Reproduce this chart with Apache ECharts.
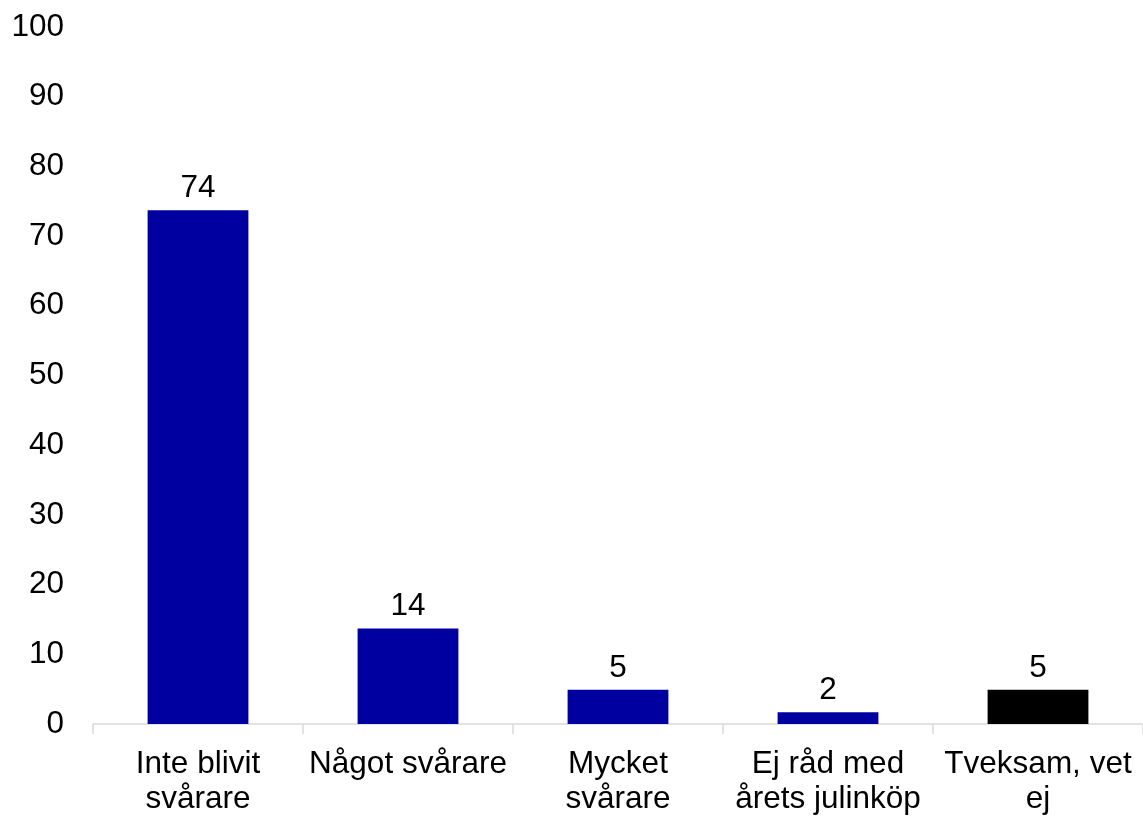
<!DOCTYPE html>
<html>
<head>
<meta charset="utf-8">
<script src="https://cdn.jsdelivr.net/npm/echarts@6/dist/echarts.min.js"></script>
<style>html,body{margin:0;padding:0;background:#fff;overflow:hidden}#c{width:1143px;height:817px}</style>
</head>
<body>
<div id="c"></div>
<script>
const categories = ["Inte blivit\nsvårare", "Något svårare", "Mycket\nsvårare", "Ej råd med\nårets julinköp", "Tveksam, vet\nej"];
const values = [73.7, 13.7, 4.9, 1.7, 4.9];
const barColors = ["#0000A0", "#0000A0", "#0000A0", "#0000A0", "#000000"];

const chart = echarts.init(document.getElementById('c'), null, {renderer: 'canvas'});
const font = 'Liberation Sans, Arial, sans-serif';
chart.setOption({
  animation: false,
  grid: {left: 93, right: 0, top: 27, bottom: 90, containLabel: false},
  xAxis: {
    type: 'category',
    data: categories,
    axisLine: {show: true, lineStyle: {color: '#d9d9d9', width: 1.5}},
    axisTick: {show: true, length: 10, lineStyle: {color: '#d9d9d9', width: 1.5}},
    axisLabel: {color: '#000', fontFamily: font, fontSize: 31.5, lineHeight: 35, margin: 23, interval: 0}
  },
  yAxis: {
    type: 'value', min: 0, max: 100, interval: 10,
    axisLine: {show: false}, axisTick: {show: false}, splitLine: {show: false},
    axisLabel: {color: '#000', fontFamily: font, fontSize: 31.5, margin: 29}
  },
  series: [{
    type: 'bar',
    data: values.map((v, i) => ({value: v, itemStyle: {color: barColors[i]}})),
    barWidth: '48%',
    label: {show: true, position: 'top', distance: 6, color: '#000', fontFamily: font, fontSize: 31.5,
      formatter: p => Math.round(p.value)}
  }]
});
</script>
</body>
</html>
